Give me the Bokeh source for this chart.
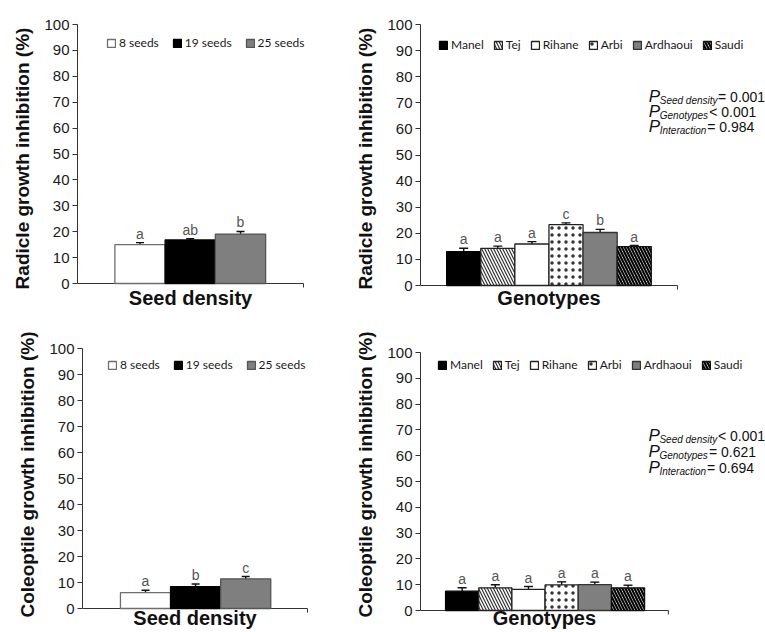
from bokeh.plotting import figure
from bokeh.models import (ColumnDataSource, Whisker, TeeHead, LabelSet, Label,
                          Legend, LegendItem, FixedTicker, Range1d)
from bokeh.core.properties import value
from bokeh.layouts import row, column
from bokeh.embed import file_html
from bokeh.resources import INLINE

# ---------------- data ----------------
seed_densities = ["8 seeds", "19 seeds", "25 seeds"]
genotypes = ["Manel", "Tej", "Rihane", "Arbi", "Ardhaoui", "Saudi"]
y_ticks = [0, 10, 20, 30, 40, 50, 60, 70, 80, 90, 100]

radicle_seed_mean = [15.0, 16.8, 19.1]
radicle_seed_se = [0.8, 0.5, 1.0]
radicle_seed_letters = ["a", "ab", "b"]

radicle_geno_mean = [13.0, 14.2, 15.9, 23.3, 20.3, 14.9]
radicle_geno_se = [1.3, 0.9, 0.9, 0.7, 1.2, 0.4]
radicle_geno_letters = ["a", "a", "a", "c", "b", "a"]

coleoptile_seed_mean = [6.1, 8.4, 11.4]
coleoptile_seed_se = [0.9, 1.0, 0.9]
coleoptile_seed_letters = ["a", "b", "c"]

coleoptile_geno_mean = [7.5, 8.8, 8.2, 9.9, 10.0, 8.8]
coleoptile_geno_se = [1.3, 1.2, 1.1, 1.2, 1.0, 1.0]
coleoptile_geno_letters = ["a", "a", "a", "a", "a", "a"]

radicle_p_terms = ["Seed density", "Genotypes", "Interaction"]
radicle_p_rel = ["= 0.001", "< 0.001", "= 0.984"]
coleoptile_p_terms = ["Seed density", "Genotypes", "Interaction"]
coleoptile_p_rel = ["< 0.001", "= 0.621", "= 0.694"]

# ---------------- styles ----------------
ARIAL = "Liberation Sans"
AXIS_COLOR = "#333333"
seed_styles = [
    dict(fill_color="white", line_color="#6e6e6e"),
    dict(fill_color="black", line_color="black"),
    dict(fill_color="#7f7f7f", line_color="#555555"),
]
geno_styles = [
    dict(fill_color="black", line_color="black"),
    dict(fill_color="white", line_color="#222222", hatch_pattern="left_diagonal_line",
         hatch_color="#333333", hatch_scale=6, hatch_weight=1.2),
    dict(fill_color="white", line_color="#222222"),
    dict(fill_color="white", line_color="#222222", hatch_pattern="dot",
         hatch_color="#333333", hatch_scale=7, hatch_weight=0.6),
    dict(fill_color="#7f7f7f", line_color="#333333"),
    dict(fill_color="white", line_color="#111111", hatch_pattern="left_diagonal_line",
         hatch_color="black", hatch_scale=6, hatch_weight=2.2),
]


def panel(cats, means, ses, letters, styles, g, ylabel, xtitle, leg, pvals=None):
    bx, by, w, h = g["box"]
    fl = g["fl"]
    fr, ft, fb = bx + w, by, by + h          # the frame fills the figure except the left border
    sp = g["sp"]
    ppu = (g["y0"] - g["y100"]) / 100.0       # pixels per percent
    xs0 = 1 - (g["c1"] - fl) / sp
    xs1 = xs0 + (fr - fl) / sp
    x_axis_end = xs0 + (g["ae"] - fl) / sp
    y_lo = -(fb - g["y0"]) / ppu
    y_hi = 100 + (g["y100"] - ft) / ppu

    p = figure(width=w, height=h, x_range=Range1d(xs0, xs1), y_range=Range1d(y_lo, y_hi),
               output_backend="svg", toolbar_location=None, x_axis_location=None,
               min_border_left=fl - bx, min_border_right=0,
               min_border_top=0, min_border_bottom=0,
               outline_line_color=None, background_fill_color="white")
    p.xgrid.visible = False
    p.ygrid.visible = False

    # y axis (0-100 only)
    p.yaxis.bounds = (0, 100)
    p.yaxis.ticker = FixedTicker(ticks=y_ticks)
    p.yaxis.minor_tick_line_color = None
    p.yaxis.major_tick_out = 5
    p.yaxis.major_tick_in = 0
    p.yaxis.major_tick_line_color = AXIS_COLOR
    p.yaxis.axis_line_color = AXIS_COLOR
    p.yaxis.major_label_text_font = ARIAL
    p.yaxis.major_label_text_font_size = "15px"
    p.yaxis.major_label_text_color = "#1a1a1a"
    p.yaxis.major_label_standoff = 3
    p.yaxis.axis_label = ylabel
    p.yaxis.axis_label_text_font = ARIAL
    p.yaxis.axis_label_text_font_size = "19px"
    p.yaxis.axis_label_text_font_style = "bold"
    p.yaxis.axis_label_text_color = "#111111"
    p.yaxis.axis_label_standoff = 8

    # x axis line (at 0, under the bars' area) with its small end tick
    p.segment(x0=[xs0], y0=[0], x1=[x_axis_end], y1=[0], line_color=AXIS_COLOR, line_width=1)
    p.segment(x0=[x_axis_end], y0=[0], x1=[x_axis_end], y1=[-4 / ppu],
              line_color=AXIS_COLOR, line_width=1)

    # x title, centred under the axis line
    p.add_layout(Label(x=(xs0 + x_axis_end) / 2, y=0, y_offset=-g["title_base"],
                       text=xtitle, text_align="center", text_baseline="alphabetic",
                       text_font=ARIAL, text_font_size="20px", text_font_style="bold",
                       text_color="#111111"))

    # bars
    items = []
    for i, cat in enumerate(cats):
        src = ColumnDataSource(dict(x=[i + 1], top=[means[i]]))
        r = p.vbar(x="x", top="top", bottom=0, width=1.0, source=src,
                   line_width=1.3, **styles[i])
        items.append(LegendItem(label=cat, renderers=[r]))

    # error bars and letters
    es = ColumnDataSource(dict(
        x=[i + 1 for i in range(len(cats))],
        upper=[m + s for m, s in zip(means, ses)],
        lower=[m - s for m, s in zip(means, ses)],
        letter=letters))
    p.add_layout(Whisker(base="x", upper="upper", lower="lower", source=es,
                         line_color="#111111", line_width=1.4,
                         upper_head=TeeHead(size=g["cap"], line_width=1.4, line_color="#111111"),
                         lower_head=TeeHead(size=g["cap"], line_width=1.4, line_color="#111111")))
    p.add_layout(LabelSet(x="x", y="upper", text="letter", source=es,
                          text_align="center", text_baseline="alphabetic",
                          y_offset=4, text_font=value(ARIAL), text_font_size="14px",
                          text_color="#555555"))

    # legend
    lg = Legend(items=items, orientation="horizontal", location=leg["loc"],
                label_text_font="Lato", label_text_font_size="12px",
                label_text_color="#1a1a1a", glyph_width=10, glyph_height=10,
                label_height=14, label_width=10, label_standoff=3,
                spacing=leg["spacing"], padding=0, margin=0,
                border_line_color=None, background_fill_alpha=0)
    p.add_layout(lg)

    def to_data(px, py):
        return xs0 + (px - fl) / sp, (g["y0"] - py) / ppu

    # p-values
    if pvals is not None:
        terms, rels, lay = pvals
        for k in range(len(terms)):
            base = lay["base"][k]
            xp, yp = to_data(lay["px"], base)
            p.add_layout(Label(x=xp, y=yp, text="P", text_font=ARIAL,
                               text_font_style="italic", text_font_size="17px",
                               text_baseline="alphabetic", text_color="#111111"))
            xs, ys = to_data(lay["sx"], base + 4)
            p.add_layout(Label(x=xs, y=ys, text=terms[k], text_font=ARIAL,
                               text_font_style="italic", text_font_size="10px",
                               text_baseline="alphabetic", text_color="#111111"))
            xq, yq = to_data(lay["rx"][k], base)
            p.add_layout(Label(x=xq, y=yq, text=rels[k], text_font=ARIAL,
                               text_font_size="14px", text_baseline="alphabetic",
                               text_color="#111111"))
    return p


# layout geometry (page pixels from the top-left corner of the page)
g_tl = dict(box=(0, 0, 352, 316), fl=77, y100=24, y0=283, c1=139.5, sp=50.25, ae=303,
            cap=8, title_base=14)
g_tr = dict(box=(352, 0, 413, 316), fl=416, y100=24, y0=285, c1=459.7, sp=34.5, ae=676,
            cap=9, title_base=12)
g_bl = dict(box=(0, 316, 352, 316), fl=82, y100=348, y0=608, c1=145, sp=50.1, ae=307,
            cap=8, title_base=9)
g_br = dict(box=(352, 316, 413, 316), fl=417, y100=352, y0=610, c1=459, sp=33.46, ae=667,
            cap=9, title_base=7)

leg_tl = dict(loc=(29, 266), spacing=13)
leg_tr = dict(loc=(18, 264), spacing=9)
leg_bl = dict(loc=(25, 260), spacing=13)
leg_br = dict(loc=(17, 260), spacing=9)

p_tr_lay = dict(px=647, sx=658, rx=[717, 708, 706], base=[96, 111, 126])
p_br_lay = dict(px=647, sx=658, rx=[717, 708, 706], base=[435, 451, 467])

tl = panel(seed_densities, radicle_seed_mean, radicle_seed_se, radicle_seed_letters,
           seed_styles, g_tl, "Radicle growth inhibition (%)", "Seed density", leg_tl)
tr = panel(genotypes, radicle_geno_mean, radicle_geno_se, radicle_geno_letters,
           geno_styles, g_tr, "Radicle growth inhibition (%)", "Genotypes", leg_tr,
           (radicle_p_terms, radicle_p_rel, p_tr_lay))
bl = panel(seed_densities, coleoptile_seed_mean, coleoptile_seed_se, coleoptile_seed_letters,
           seed_styles, g_bl, "Coleoptile growth inhibition (%)", "Seed density", leg_bl)
br = panel(genotypes, coleoptile_geno_mean, coleoptile_geno_se, coleoptile_geno_letters,
           geno_styles, g_br, "Coleoptile growth inhibition (%)", "Genotypes", leg_br,
           (coleoptile_p_terms, coleoptile_p_rel, p_br_lay))

layout = column(row(tl, tr, spacing=0), row(bl, br, spacing=0), spacing=0)

with open("out.html", "w") as f:
    f.write(file_html(layout, INLINE))
